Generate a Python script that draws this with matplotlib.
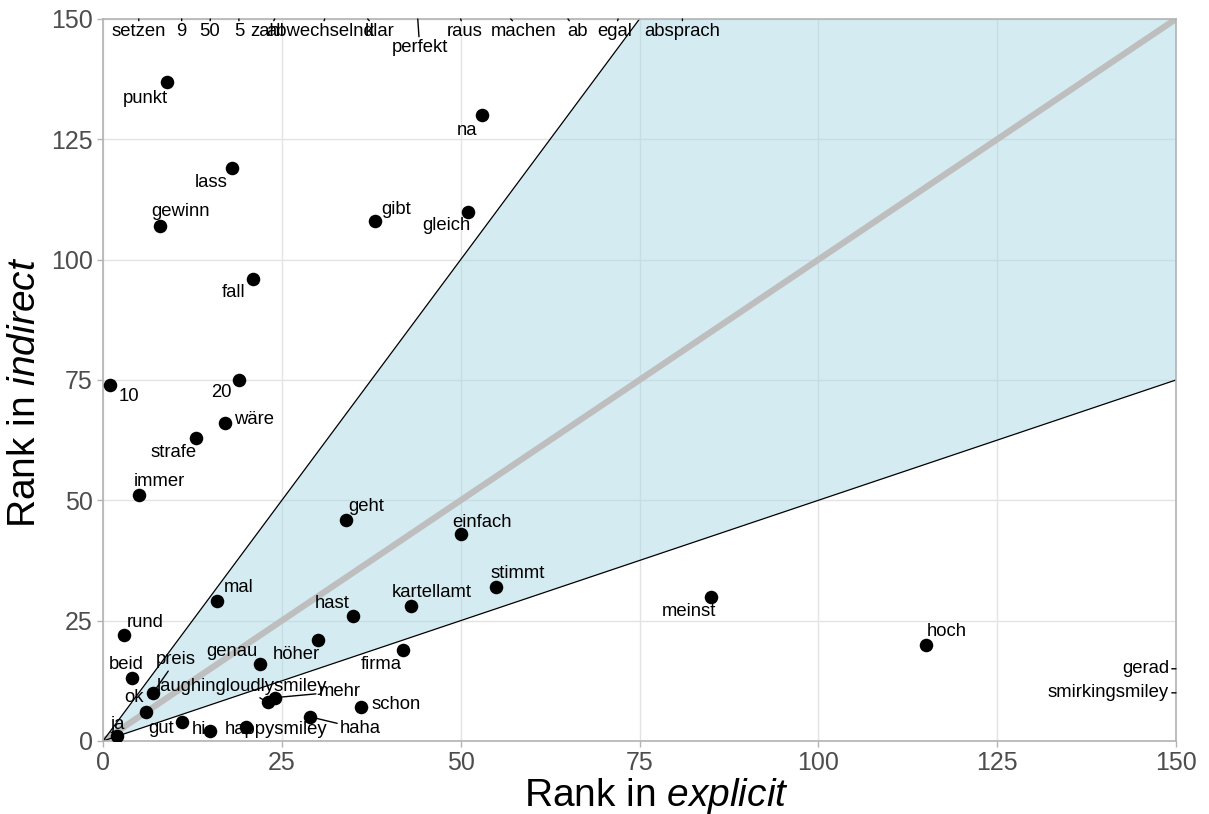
import matplotlib
matplotlib.use("Agg")
import matplotlib.pyplot as plt
import numpy as np

plt.rcParams['font.family'] = ['Liberation Sans', 'DejaVu Sans']
plt.rcParams['mathtext.fontset'] = 'custom'
plt.rcParams['mathtext.rm'] = 'Liberation Sans'
plt.rcParams['mathtext.it'] = 'Liberation Sans:italic'

# words inside the plotted range
words = ['punkt', 'na', 'lass', 'gewinn', 'gibt', 'gleich', 'fall', '10', '20',
         'wäre', 'strafe', 'immer', 'geht', 'einfach', 'stimmt', 'kartellamt',
         'meinst', 'hoch', 'mal', 'hast', 'rund', 'höher', 'firma', 'genau',
         'beid', 'preis', 'ok', 'laughingloudlysmiley', 'mehr', 'schon', 'haha',
         'gut', 'hi', 'happysmiley', 'ja']
explicit = [9, 53, 18, 8, 38, 51, 21, 1, 19,
            17, 13, 5, 34, 50, 55, 43,
            85, 115, 16, 35, 3, 30, 42, 22,
            4, 7, 6, 23, 24, 36, 29,
            11, 15, 20, 2]
indirect = [137, 130, 119, 107, 108, 110, 96, 74, 75,
            66, 63, 51, 46, 43, 32, 28,
            30, 20, 29, 26, 22, 21, 19, 16,
            13, 10, 6, 8, 9, 7, 5,
            4, 2, 3, 1]

# words ranked above 150 in indirect (shown at the top edge)
top_words = ['setzen', '9', '50', '5', 'zahl', 'abwechselnd', 'klar', 'perfekt',
             'raus', 'machen', 'ab', 'egal', 'absprach']
top_explicit = [5, 11, 15, 19, 24, 31, 37, 44, 50, 57, 65, 72, 81]

# words ranked above 150 in explicit (shown at the right edge)
right_words = ['gerad', 'smirkingsmiley']
right_indirect = [15, 10]

# label offsets in pixels (dx right, dy down) -- repel-like layout
offsets = {
    'punkt': (-22, 17), 'na': (-15, 15), 'lass': (-21, 14), 'gewinn': (20, -14),
    'gibt': (21, -12), 'gleich': (-21, 14), 'fall': (-20, 14), '10': (19, 12),
    '20': (-18, 13), 'wäre': (29, -4), 'strafe': (-22, 15), 'immer': (21, -14),
    'geht': (20, -13), 'einfach': (21, -12), 'stimmt': (21, -13),
    'kartellamt': (21, -14), 'meinst': (-22, 15), 'hoch': (21, -13),
    'mal': (21, -14), 'hast': (-21, -12), 'rund': (21, -13), 'höher': (-21, 15),
    'firma': (-22, 15), 'genau': (-29, -12), 'beid': (-5, -14), 'preis': (23, -33),
    'ok': (-12, -15), 'laughingloudlysmiley': (-26, -16), 'mehr': (65, -6),
    'schon': (36, -3), 'haha': (50, 12), 'gut': (-21, 7), 'hi': (-11, -2),
    'happysmiley': (30, 3), 'ja': (0, -12),
}
segments = {'preis', 'laughingloudlysmiley', 'mehr', 'haha'}
top_dx = {'setzen': 0, '9': 0, '50': -1, '5': 0, 'zahl': -7, 'abwechselnd': -5,
          'klar': 12, 'perfekt': 2, 'raus': 4, 'machen': 13, 'ab': 10, 'egal': -3,
          'absprach': 0}

fig = plt.figure(figsize=(12.09, 8.14), dpi=100)
ax = fig.add_axes([0.0852, 0.0897, 0.8875, 0.887])
ax.set_xlim(0, 150)
ax.set_ylim(0, 150)

xs = np.array(ax.get_xlim())
ax.fill_between(xs, 0.5 * xs, 2 * xs, color='lightblue', alpha=0.5, lw=0, zorder=1)
ax.axline((0, 0), slope=1, color='#BEBEBE', lw=4.5, zorder=2)
ax.axline((0, 0), slope=2, color='black', lw=0.9, zorder=2)
ax.axline((0, 0), slope=0.5, color='black', lw=0.9, zorder=2)

ax.scatter(explicit, indirect, s=95, color='black', zorder=4, linewidths=0)

lab_fs = 13.3
for w, x, y in zip(words, explicit, indirect):
    dx, dy = offsets[w]
    kw = {}
    if w in segments:
        kw['arrowprops'] = dict(arrowstyle='-', color='black', lw=1, shrinkA=0, shrinkB=3)
    ax.annotate(w, xy=(x, y), xytext=(dx, -dy), textcoords='offset pixels',
                ha='center', va='center', fontsize=lab_fs, zorder=5, **kw)

ymax = ax.get_ylim()[1]
for w, x in zip(top_words, top_explicit):
    dy = 29 if w == 'perfekt' else 13
    ax.annotate(w, xy=(x, ymax), xytext=(top_dx[w], -dy), textcoords='offset pixels',
                ha='center', va='center', fontsize=lab_fs, zorder=5,
                annotation_clip=False,
                arrowprops=dict(arrowstyle='-', color='black', lw=1, shrinkA=0, shrinkB=0))

xmax = ax.get_xlim()[1]
for w, y in zip(right_words, right_indirect):
    ax.annotate(w, xy=(xmax, y), xytext=(-7, 0), textcoords='offset pixels',
                ha='right', va='center', fontsize=lab_fs, zorder=5,
                annotation_clip=False,
                arrowprops=dict(arrowstyle='-', color='black', lw=1, shrinkA=0, shrinkB=0))

ticks = [0, 25, 50, 75, 100, 125, 150]
ax.set_xticks(ticks)
ax.set_yticks(ticks)
ax.grid(True, color='#E3E3E3', lw=1)
ax.set_axisbelow(True)
ax.tick_params(colors='#B3B3B3', labelcolor='#4D4D4D', labelsize=18, length=4, width=1)
for s in ax.spines.values():
    s.set_color('#B3B3B3')
    s.set_linewidth(1.2)

ax.set_xlabel('Rank in $\\mathit{explicit}$', fontsize=28)
ax.set_ylabel('Rank in $\\mathit{indirect}$', fontsize=28)
ax.xaxis.set_label_coords(0.516, -0.049)
ax.yaxis.set_label_coords(-0.056, 0.483)

fig.savefig('out.png', dpi=100)
